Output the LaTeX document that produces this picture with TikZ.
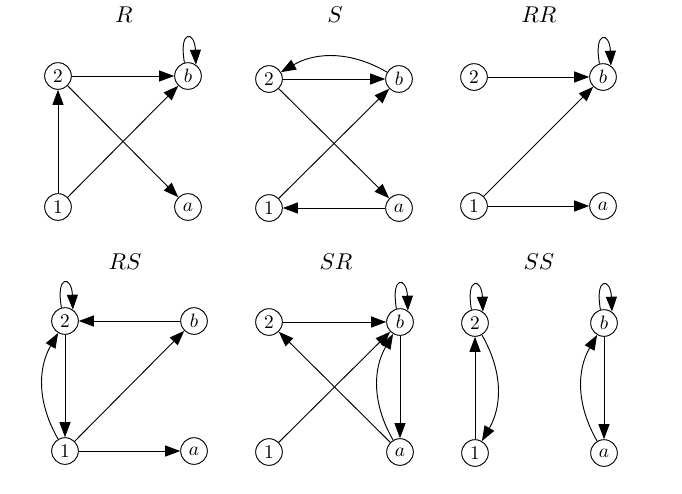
\documentclass[tikz,border=0pt]{standalone}
\usetikzlibrary{arrows.meta}
% text set at the 10pt design size and enlarged, for sturdier strokes
\newcommand{\vlab}[1]{\scalebox{1.65}{#1}}
\newcommand{\tlab}[1]{\scalebox{1.95}{#1}}
\begin{document}
\begin{tikzpicture}[x=0.03cm,y=-0.03cm,
  ttl/.style={inner sep=0pt},
  vtx/.style={circle,draw,line width=0.8pt,minimum size=0.8cm,inner sep=0pt},
  arr/.style={line width=0.8pt,-{Triangle[length=0.45cm,width=0.33cm]}},
  selfloop/.style={to path={(\tikztostart.105) .. controls +(100:1.02cm) and +(92:1.02cm) .. (\tikztotarget.55)}},
  curvy/.style={bend left=30}]
\useasboundingbox (0,0) rectangle (682,493);

% ---- R ----
\node[ttl] (tR) at (124,15) {\tlab{$R$}};
\node[vtx] (R2) at (58,76) {\vlab{2}};
\node[vtx] (Rb) at (188,76) {\vlab{$b$}};
\node[vtx] (R1) at (58,207) {\vlab{1}};
\node[vtx] (Ra) at (188,207) {\vlab{$a$}};
\draw[arr] (R1) -- (R2);
\draw[arr] (R1) -- (Rb);
\draw[arr] (R2) -- (Rb);
\draw[arr] (R2) -- (Ra);
\draw[arr] (Rb) to[selfloop] (Rb);

% ---- S ----
\node[ttl] (tS) at (335,15) {\tlab{$S$}};
\node[vtx] (S2) at (269,79) {\vlab{2}};
\node[vtx] (Sb) at (399,79) {\vlab{$b$}};
\node[vtx] (S1) at (269,208) {\vlab{1}};
\node[vtx] (Sa) at (399,208) {\vlab{$a$}};
\draw[arr] (S2) -- (Sb);
\draw[arr] (Sb) to[bend right=30] (S2);
\draw[arr] (S2) -- (Sa);
\draw[arr] (S1) -- (Sb);
\draw[arr] (Sa) -- (S1);

% ---- RR ----
\node[ttl] (tRR) at (539,15) {\tlab{$RR$}};
\node[vtx] (RR2) at (474,77) {\vlab{2}};
\node[vtx] (RRb) at (603,77) {\vlab{$b$}};
\node[vtx] (RR1) at (474,206) {\vlab{1}};
\node[vtx] (RRa) at (603,206) {\vlab{$a$}};
\draw[arr] (RR2) -- (RRb);
\draw[arr] (RR1) -- (RRb);
\draw[arr] (RR1) -- (RRa);
\draw[arr] (RRb) to[selfloop] (RRb);

% ---- RS ----
\node[ttl] (tRS) at (125,262) {\tlab{$RS$}};
\node[vtx] (RS2) at (65,321) {\vlab{2}};
\node[vtx] (RSb) at (194,321) {\vlab{$b$}};
\node[vtx] (RS1) at (65,451) {\vlab{1}};
\node[vtx] (RSa) at (194,451) {\vlab{$a$}};
\draw[arr] (RS2) to[selfloop] (RS2);
\draw[arr] (RSb) -- (RS2);
\draw[arr] (RS2) -- (RS1);
\draw[arr] (RS1) to[curvy] (RS2);
\draw[arr] (RS1) -- (RSb);
\draw[arr] (RS1) -- (RSa);

% ---- SR ----
\node[ttl] (tSR) at (336,262) {\tlab{$SR$}};
\node[vtx] (SR2) at (269,322) {\vlab{2}};
\node[vtx] (SRb) at (400,322) {\vlab{$b$}};
\node[vtx] (SR1) at (269,452) {\vlab{1}};
\node[vtx] (SRa) at (400,452) {\vlab{$a$}};
\draw[arr] (SRb) to[selfloop] (SRb);
\draw[arr] (SR2) -- (SRb);
\draw[arr] (SRa) -- (SR2);
\draw[arr] (SR1) -- (SRb);
\draw[arr] (SRb) -- (SRa);
\draw[arr] (SRa) to[curvy] (SRb);

% ---- SS ----
\node[ttl] (tSS) at (539,262) {\tlab{$SS$}};
\node[vtx] (SS2) at (475,323) {\vlab{2}};
\node[vtx] (SSb) at (604,323) {\vlab{$b$}};
\node[vtx] (SS1) at (475,453) {\vlab{1}};
\node[vtx] (SSa) at (604,453) {\vlab{$a$}};
\draw[arr] (SS2) to[selfloop] (SS2);
\draw[arr] (SS1) -- (SS2);
\draw[arr] (SS2) to[curvy] (SS1);
\draw[arr] (SSb) to[selfloop] (SSb);
\draw[arr] (SSb) -- (SSa);
\draw[arr] (SSa) to[curvy] (SSb);
\end{tikzpicture}
\end{document}
